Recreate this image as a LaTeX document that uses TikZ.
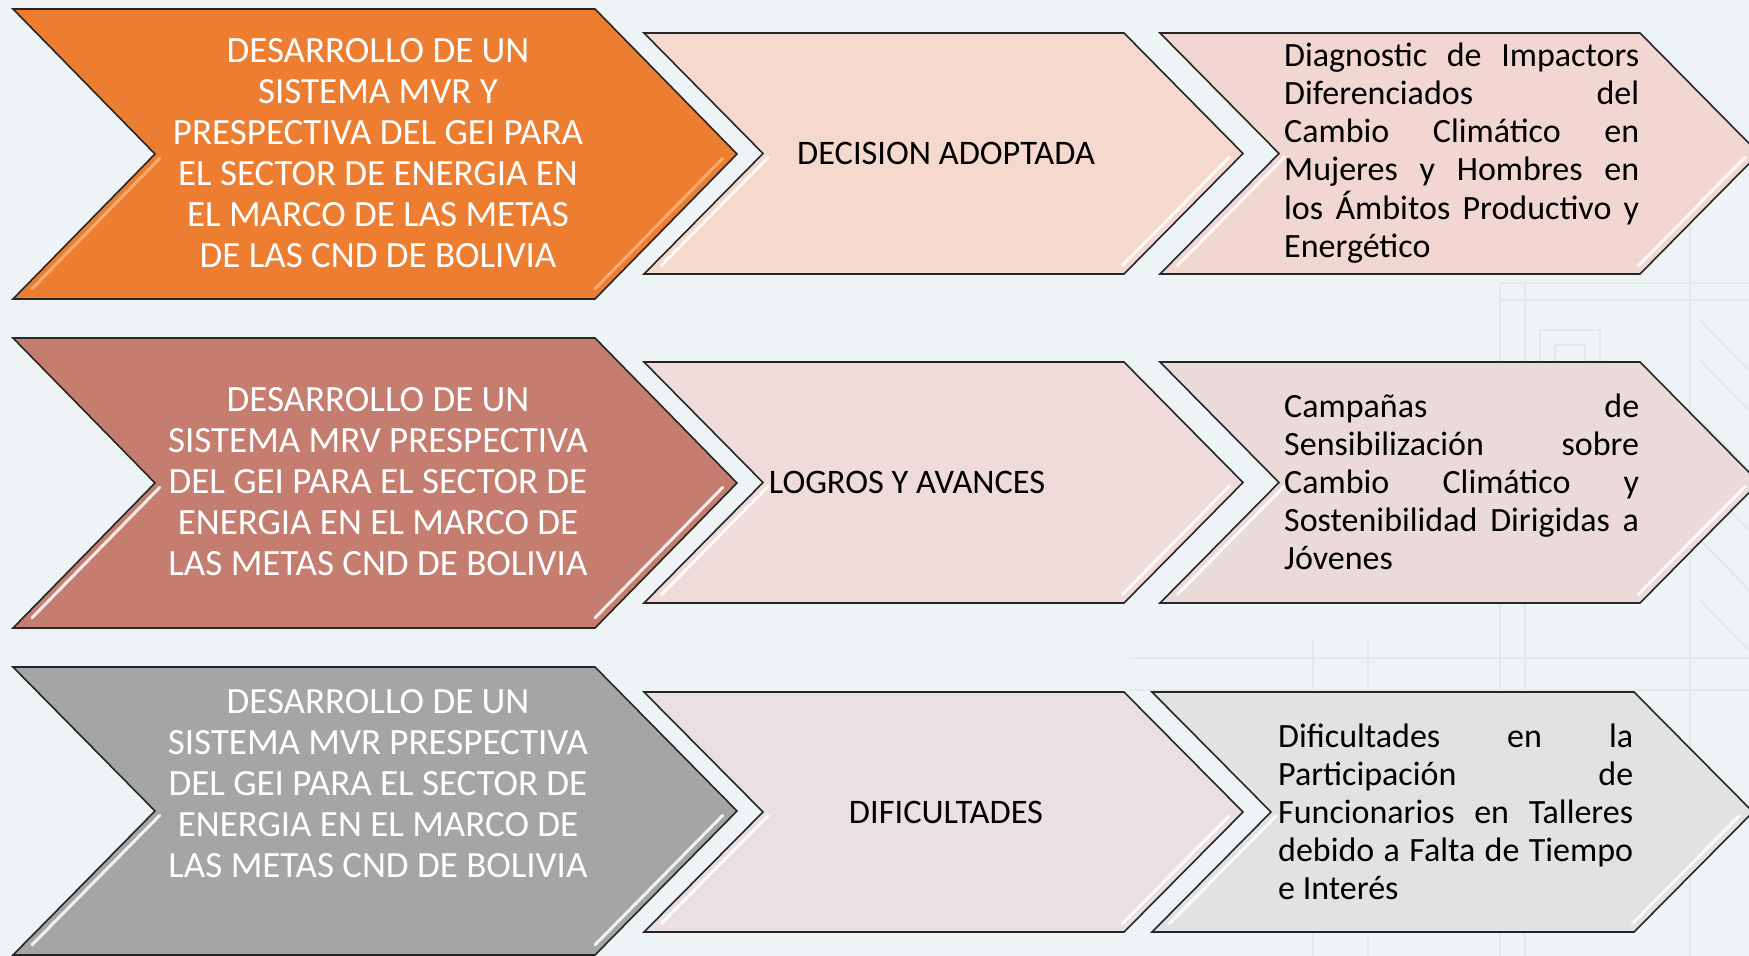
\documentclass[tikz,border=0pt]{standalone}
\usepackage{fontspec}
\setmainfont{Carlito}
\definecolor{bgc}{HTML}{EEF3F6}
\definecolor{patc}{HTML}{E3E8EB}
\definecolor{orng}{HTML}{ED7D31}
\definecolor{orhl}{HTML}{F8B47C}
\definecolor{pkA}{HTML}{F5D9CF}
\definecolor{pkB}{HTML}{F1D6D2}
\definecolor{rose}{HTML}{C47D6F}
\definecolor{pkC}{HTML}{EFDBD9}
\definecolor{pkD}{HTML}{EBDADA}
\definecolor{gryA}{HTML}{A5A5A5}
\definecolor{gryB}{HTML}{E9E1E1}
\definecolor{gryC}{HTML}{E2E2E2}
\tikzset{
  chevbox/.style={draw=black!85, line width=1.6pt, line join=miter},
  hl/.style={draw=#1, line width=3pt, line cap=round, opacity=0.85},
  pat/.style={draw=patc, line width=2pt},
  bigtext/.style={text=white, align=center, inner sep=0pt, font=\fontsize{37}{41}\selectfont},
  midtext/.style={text=black, inner sep=0pt, font=\fontsize{34.4}{41}\selectfont},
  rtext/.style={text=black, align=left, inner sep=0pt, anchor=west, font=\fontsize{34}{38.1}\selectfont}
}
% #1 L, #2 T, #3 R, #4 B, #5 depth, #6 fill, #7 highlight
\newcommand\chevshape[7]{%
  \draw[chevbox, fill=#6] (#1,#2) -- (#3,#2) -- ({#3+#5},{(#2+#4)/2}) -- (#3,#4) -- (#1,#4) -- ({#1+#5},{(#2+#4)/2}) -- cycle;
  \draw[hl=#7] ({#1+0.97*#5+9},{(#2+#4)/2+0.03*(#4-#2)/2}) -- ({#1+0.07*#5+9},{(#2+#4)/2+0.93*(#4-#2)/2});
  \draw[hl=#7] ({#3+0.97*#5-10},{(#2+#4)/2+0.03*(#4-#2)/2}) -- ({#3+0.07*#5-10},{(#2+#4)/2+0.93*(#4-#2)/2});
}
\newcommand\jline[1]{\makebox[355pt][s]{#1}}
\begin{document}
\begin{tikzpicture}[x=1pt, y=-1pt]
\useasboundingbox (0,0) rectangle (1749,956);
\fill[bgc] (0,0) rectangle (1749,956);
% faint background motif
\draw[pat] (1500,283) -- (1500,956);
\draw[pat] (1525,283) -- (1525,956);
\draw[pat] (1690,90) -- (1690,956);
\draw[pat] (1500,283) -- (1749,283);
\draw[pat] (1500,300) -- (1749,300);
\draw[pat] (1313,640) -- (1313,956);
\draw[pat] (1368,640) -- (1368,956);
\draw[pat] (1129,658) -- (1749,658);
\draw[pat] (1129,690) -- (1749,690);
\draw[pat] (1540,330) rectangle (1600,400);
\draw[pat] (1555,345) rectangle (1585,385);
\draw[pat] (1700,320) -- (1749,370);
\draw[pat] (1700,360) -- (1749,410);
\draw[pat] (1700,420) -- (1749,470);
\draw[pat] (1700,480) -- (1749,530);
\draw[pat] (1700,540) -- (1749,590);
\draw[pat] (1700,600) -- (1749,650);
% row 1
\chevshape{13}{9}{595}{299}{142}{orng}{orhl}
\chevshape{644}{33}{1124}{274}{119}{pkA}{white}
\chevshape{1160}{33}{1640}{274}{119}{pkB}{white}
% row 2
\chevshape{13}{338}{595}{628}{142}{rose}{white}
\chevshape{644}{362}{1124}{603}{119}{pkC}{white}
\chevshape{1160}{362}{1640}{603}{119}{pkD}{white}
% row 3
\chevshape{13}{667}{595}{955}{142}{gryA}{white}
\chevshape{644}{692}{1124}{932}{119}{gryB}{white}
\chevshape{1152}{692}{1634}{932}{119}{gryC}{white}
% texts
\node[bigtext] (a1) at (378,153) {DESARROLLO DE UN\\SISTEMA MVR Y\\PRESPECTIVA DEL GEI PARA\\EL SECTOR DE ENERGIA EN\\EL MARCO DE LAS METAS\\DE LAS CND DE BOLIVIA};
\node[bigtext] (a2) at (378,482) {DESARROLLO DE UN\\SISTEMA MRV PRESPECTIVA\\DEL GEI PARA EL SECTOR DE\\ENERGIA EN EL MARCO DE\\LAS METAS CND DE BOLIVIA};
\node[bigtext] (a3) at (378,784) {DESARROLLO DE UN\\SISTEMA MVR PRESPECTIVA\\DEL GEI PARA EL SECTOR DE\\ENERGIA EN EL MARCO DE\\LAS METAS CND DE BOLIVIA};
\node[midtext] (b1) at (946,153) {DECISION ADOPTADA};
\node[midtext] (b2) at (907,482) {LOGROS Y AVANCES};
\node[midtext] (b3) at (946,812) {DIFICULTADES};
\node[rtext] (c1) at (1284,153) {\jline{Diagnostic de Impactors}\\\jline{Diferenciados del}\\\jline{Cambio Climático en}\\\jline{Mujeres y Hombres en}\\\jline{los Ámbitos Productivo y}\\Energético};
\node[rtext] (c2) at (1284,482) {\jline{Campañas de}\\\jline{Sensibilización sobre}\\\jline{Cambio Climático y}\\\jline{Sostenibilidad Dirigidas a}\\Jóvenes};
\node[rtext] (c3) at (1278,812) {\jline{Dificultades en la}\\\jline{Participación de}\\\jline{Funcionarios en Talleres}\\\jline{debido a Falta de Tiempo}\\e Interés};
\end{tikzpicture}
\end{document}
